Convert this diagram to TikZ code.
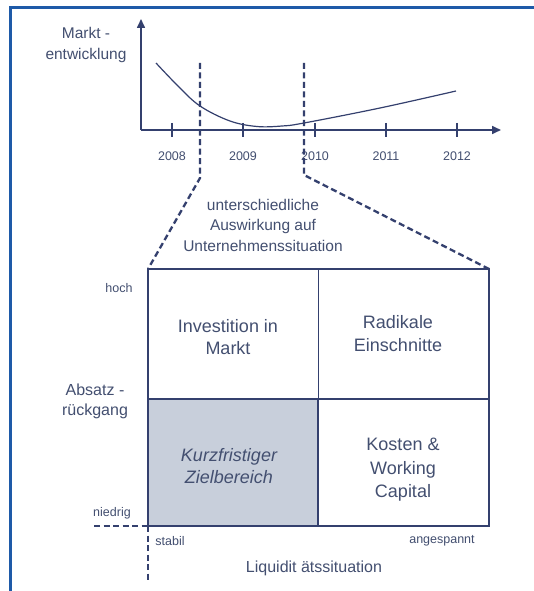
\documentclass[tikz,border=0pt]{standalone}
\usepackage{fontspec}
\setmainfont{Liberation Sans}
\usetikzlibrary{arrows.meta}
\definecolor{frameblue}{HTML}{1E5AA8}
\definecolor{linecol}{HTML}{34406E}
\definecolor{textcol}{HTML}{434F70}
\definecolor{cellfill}{HTML}{C8CFDB}
\tikzset{
  bigtxt/.style={font=\fontsize{18}{22.5}\selectfont, text=textcol, align=center, inner sep=0pt},
  midtxt/.style={font=\fontsize{15.5}{20.5}\selectfont, text=textcol, align=center, inner sep=0pt},
  smalltxt/.style={font=\fontsize{12.5}{15}\selectfont, text=textcol, align=center, inner sep=0pt},
  axisline/.style={draw=linecol, line width=1.6pt},
  dashline/.style={draw=linecol, line width=2.3pt, dash pattern=on 6pt off 3.5pt},
  gridline/.style={draw=linecol, line width=1.6pt},
  thingrid/.style={draw=linecol, line width=1.0pt},
}
\begin{document}
\begin{tikzpicture}[x=1pt,y=-1pt]
\useasboundingbox (0,0) rectangle (534,591);
\fill[white] (0,0) rectangle (534,591);
% frame
\draw[frameblue, line width=3pt] (10.5,591) -- (10.5,8) -- (534,8);

% axes
\coordinate (O) at (141,130);
\coordinate (Xend) at (501,130);
\coordinate (Yend) at (141,19);
\draw[axisline, -{Triangle[length=9pt,width=8pt]}] (O) -- (Xend);
\draw[axisline, -{Triangle[length=9pt,width=8pt]}] (O) -- (Yend);
\foreach \x/\yr in {172/2008, 243/2009, 315/2010, 386/2011, 457/2012}{
  \draw[draw=linecol, line width=1.1pt] (\x,123) -- (\x,137);
  \node[smalltxt] (y\yr) at (\x,156) {\yr};
}
\node[midtxt] (mkt) at (86,45) {Markt -\\entwicklung};

% market curve
\draw[draw=linecol, line width=1.2pt] plot[smooth, tension=0.6] coordinates
  {(156,63) (178,86) (200,106) (230,121) (257,126.5) (282,126) (304,123) (380,108) (456,91)};

% box corners
\coordinate (TL) at (148,269);
\coordinate (TR) at (489,269);
\coordinate (BL) at (148,526);
\coordinate (BR) at (489,526);
\coordinate (TM) at (318,269);
\coordinate (MM) at (318,399);
\coordinate (BM) at (318,526);
\coordinate (LM) at (148,399);
\coordinate (RM) at (489,399);

% shaded cell
\fill[cellfill] (LM) rectangle (BM);

% grid
\draw[thingrid] (TM) -- (MM);
\draw[gridline] (LM) -- (RM);
\draw[gridline] (MM) -- (BM);
\draw[gridline] (TL) rectangle (BR);

% dashed zoom lines
\coordinate (d1t) at (200,63);
\coordinate (d1b) at (200,178);
\coordinate (d2t) at (304,63);
\coordinate (d2b) at (304,175);
\draw[dashline] (d1t) -- (d1b) -- (TL);
\draw[dashline] (d2t) -- (d2b) -- (TR);

% dashed origin lines
\coordinate (hl) at (94,526);
\coordinate (vb) at (148,580);
\draw[dashline] (hl) -- (BL);
\draw[dashline] (BL) -- (vb);

% texts
\node[midtxt] (unt) at (263,225) {unterschiedliche\\Auswirkung auf\\Unternehmenssituation};
\node[smalltxt] (hoch) at (119,288) {hoch};
\node[midtxt, font=\fontsize{16}{20}\selectfont] (abs) at (95,401) {Absatz -\\rückgang};
\node[smalltxt] (nied) at (112,513) {niedrig};
\node[smalltxt] (stab) at (170,541) {stabil};
\node[smalltxt] (anges) at (442,541) {angespannt};
\node[midtxt, font=\fontsize{16}{20}\selectfont] (liq) at (314,568) {Liquidit ätssituation};

\node[bigtxt] (inv) at (228,337) {Investition in\\Markt};
\node[bigtxt] (rad) at (398,333.5) {Radikale\\Einschnitte};
\node[bigtxt, font=\fontsize{18}{22.5}\selectfont\itshape] (kurz) at (229,466) {Kurzfristiger\\Zielbereich};
\node[bigtxt, font=\fontsize{18}{23.5}\selectfont] (kost) at (403,470) {Kosten \&\\Working\\Capital};
\end{tikzpicture}
\end{document}
